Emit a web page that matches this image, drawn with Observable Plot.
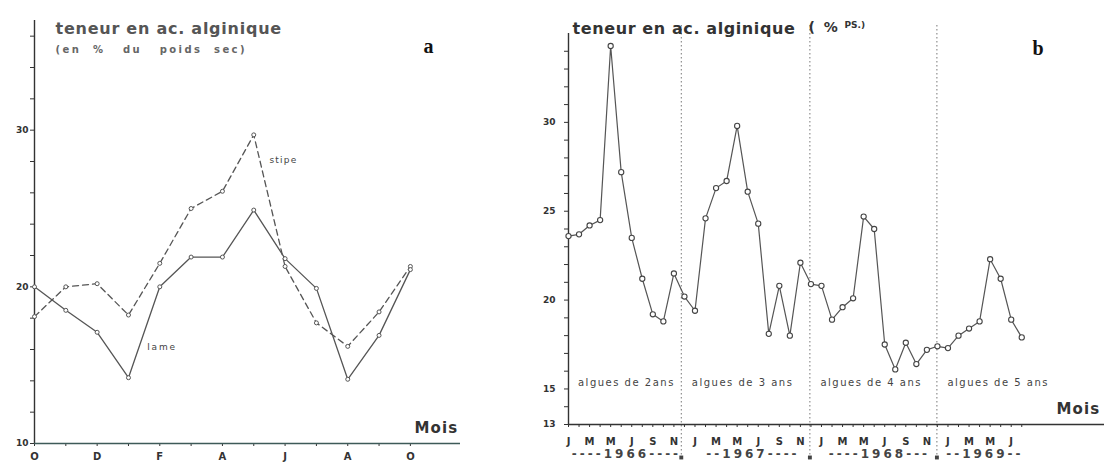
<!DOCTYPE html>
<html><head><meta charset="utf-8">
<script src="https://cdn.jsdelivr.net/npm/d3@7"></script>
<script src="https://cdn.jsdelivr.net/npm/@observablehq/plot@0.6"></script>
<style>
html,body{margin:0;padding:0;background:#fff;}
#wrap{position:relative;width:1104px;height:463px;overflow:hidden;background:#fff;}
#a{position:absolute;left:0;top:0;}
#b{position:absolute;left:520px;top:0;}
</style></head><body><div id="wrap"><div id="a"></div><div id="b"></div></div>
<script>
// ---------- Panel a : Oct -> Oct ----------
const monthsA = ["O","N","D","J","F","M","A","M","J","J","A","S","O"];
const lame  = [20.0, 18.5, 17.1, 14.2, 20.0, 21.9, 21.9, 24.9, 21.8, 19.9, 14.1, 16.9, 21.1];
const stipe = [18.1, 20.0, 20.2, 18.2, 21.5, 25.0, 26.1, 29.7, 21.3, 17.7, 16.2, 18.4, 21.3];
const yTicksA = [10,12,14,16,18,20,22,24,26,28,30,32,34,36];
const yLabelsA = [10, 20, 30];

// ---------- Panel b : Jan 1966 -> Aug 1969 ----------
const monthsB = ["J","F","M","A","M","J","J","A","S","O","N","D"];
const years = ["1966","1967","1968","1969"];
const yearText = ["----1966----","--1967----","----1968---","--1969--"];
const v1966 = [23.6, 23.7, 24.2, 24.5, 34.3, 27.2, 23.5, 21.2, 19.2, 18.8, 21.5, 20.2];
const v1967 = [19.4, 24.6, 26.3, 26.7, 29.8, 26.1, 24.3, 18.1, 20.8, 18.0, 22.1, 20.9];
const v1968 = [20.8, 18.9, 19.6, 20.1, 24.7, 24.0, 17.5, 16.1, 17.6, 16.4, 17.2, 17.4];
const v1969 = [17.3, 18.0, 18.4, 18.8, 22.3, 21.2, 18.9, 17.9];
const yTicksB = [13,14,15,16,17,18,19,20,21,22,23,24,25,26,27,28,29,30,31,32,33,34];
const yLabelsB = [30, 25, 20, 15, 13];
const groups = ["algues de 2ans","algues de 3 ans","algues de 4 ans","algues de 5 ans"];
const separators = [10.7, 22.9, 34.95];

const ink = "#333";
const lineInk = "#555";
const font = "DejaVu Sans";

function spaceText(svg, map) {
  svg.querySelectorAll("text").forEach(t => {
    const s = map.get(t.textContent);
    if (s !== undefined) t.setAttribute("letter-spacing", s);
  });
}

// ----- build panel a -----
const dataA = monthsA.map((m, i) => ({i, m, lame: lame[i], stipe: stipe[i]}));
const iMaxStipe = d3.maxIndex(stipe);
const iMinLame = d3.minIndex(lame.slice(0, 6));

const chartA = Plot.plot({
  width: 470, height: 463,
  marginLeft: 34, marginRight: 10, marginTop: 20, marginBottom: 20,
  x: {domain: [0, 13.6], label: null},
  y: {domain: [10, 37], label: null},
  style: {fontFamily: font, color: ink, background: "white", overflow: "visible"},
  marks: [
    Plot.axisY({ticks: yTicksA, tickSize: 4, tickPadding: 2, label: null,
      tickFormat: d => yLabelsA.includes(d) ? String(d) : "",
      fontSize: 9, fontWeight: "bold"}),
    Plot.axisX({ticks: d3.range(monthsA.length), tickSize: 3, tickPadding: 6, label: null,
      tickFormat: i => i % 2 === 0 ? monthsA[i] : "",
      fontSize: 10, fontWeight: "bold"}),
    Plot.ruleX([0], {y1: 10, y2: 37, stroke: ink, strokeWidth: 1.4}),
    Plot.ruleY([10], {x1: 0, x2: 13.6, stroke: "#3d5a58", strokeWidth: 1.6}),
    Plot.line(dataA, {x: "i", y: "stipe", stroke: lineInk, strokeWidth: 1.3, strokeDasharray: "6,4"}),
    Plot.line(dataA, {x: "i", y: "lame", stroke: lineInk, strokeWidth: 1.3}),
    Plot.dot(dataA, {x: "i", y: "stipe", r: 2, fill: "white", stroke: lineInk, strokeWidth: 1}),
    Plot.dot(dataA, {x: "i", y: "lame", r: 2, fill: "white", stroke: lineInk, strokeWidth: 1}),
    Plot.text(["stipe"], {x: iMaxStipe + 0.5, y: stipe[iMaxStipe] - 1.6, textAnchor: "start",
      fontSize: 9, fill: "#444"}),
    Plot.text(["lame"], {x: iMinLame + 0.6, y: lame[iMinLame] + 1.95, textAnchor: "start",
      fontSize: 9, fill: "#444"}),
    Plot.text(["Mois"], {frameAnchor: "bottom-right", dx: -2, dy: -11, textAnchor: "end",
      fontSize: 15, fontWeight: "bold", fill: ink}),
    Plot.text(["teneur en ac. alginique"], {frameAnchor: "top-left", dx: 21, dy: 2, textAnchor: "start",
      fontSize: 16, fontWeight: "bold", fill: "#555"}),
    Plot.text(["(en  %   du   poids  sec)"], {frameAnchor: "top-left", dx: 21, dy: 25, textAnchor: "start",
      fontSize: 10, fontWeight: "bold", fill: "#666"}),
    Plot.text(["a"], {frameAnchor: "top-right", dx: -27, dy: 18, fontFamily: "Liberation Serif",
      fontSize: 20, fontWeight: "bold", fill: "#111"})
  ]
});
spaceText(chartA, new Map([
  ["teneur en ac. alginique", 0.75], ["(en  %   du   poids  sec)", 2.4],
  ["stipe", 1.2], ["lame", 1.8], ["Mois", 1.2]
]));
document.getElementById("a").appendChild(chartA);

// ----- build panel b -----
const series = [v1966, v1967, v1968, v1969];
const dataB = series.flatMap((arr, k) => arr.map((v, m) => ({i: 12 * k + m, v})));
const nB = dataB.length;
const yearCenters = series.map((arr, k) => 12 * k + (arr.length - 1) / 2);
const groupStarts = [0.9, ...separators.map(s => s + 1)];

const chartB = Plot.plot({
  width: 584, height: 463,
  marginLeft: 48, marginRight: 0, marginTop: 33, marginBottom: 39,
  x: {domain: [0, 50.85], label: null},
  y: {domain: [13, 35], label: null},
  style: {fontFamily: font, color: ink, background: "white", overflow: "visible"},
  marks: [
    Plot.axisY({ticks: yTicksB, tickSize: 4, tickPadding: 9, label: null,
      tickFormat: d => yLabelsB.includes(d) ? String(d) : "",
      fontSize: 9, fontWeight: "bold"}),
    Plot.axisX({ticks: d3.range(nB), tickSize: 3, tickPadding: 10, label: null,
      tickFormat: i => i % 2 === 0 ? monthsB[i % 12] : "",
      fontSize: 10, fontWeight: "bold"}),
    Plot.ruleX(separators, {stroke: "#777", strokeWidth: 1, strokeDasharray: "1.5,2.5",
      insetTop: -8, insetBottom: -36}),
    Plot.ruleX([0], {y1: 13, y2: 35, stroke: ink, strokeWidth: 1.4}),
    Plot.ruleY([13], {x1: 0, x2: 50.85, stroke: ink, strokeWidth: 1.6}),
    Plot.line(dataB, {x: "i", y: "v", stroke: lineInk, strokeWidth: 1.2}),
    Plot.dot(dataB, {x: "i", y: "v", r: 2.6, fill: "white", stroke: "#444", strokeWidth: 1.1}),
    Plot.text(groups, {x: (d, k) => groupStarts[k], frameAnchor: "bottom", dy: -39,
      textAnchor: "start", fontSize: 10, fill: "#444"}),
    Plot.text(yearText, {x: (d, k) => yearCenters[k], frameAnchor: "bottom", dy: 33,
      fontSize: 12, fontWeight: "bold", fill: "#444"}),
    Plot.dot(separators, {x: d => d, frameAnchor: "bottom", dy: 33, symbol: "square", r: 2.2, fill: "#444"}),
    Plot.text(["Mois"], {frameAnchor: "bottom-right", dx: -4, dy: -11, textAnchor: "end",
      fontSize: 15, fontWeight: "bold", fill: ink}),
    Plot.text(["teneur en ac. alginique"], {frameAnchor: "top-left", dx: 4, dy: -11, textAnchor: "start",
      fontSize: 16, fontWeight: "bold", fill: "#333"}),
    Plot.text(["( %"], {frameAnchor: "top-left", dx: 240, dy: -11, textAnchor: "start",
      fontSize: 14, fontWeight: "bold", fill: "#333"}),
    Plot.text(["PS.)"], {frameAnchor: "top-left", dx: 276, dy: -12, textAnchor: "start",
      fontSize: 9, fontWeight: "bold", fill: "#333"}),
    Plot.text(["b"], {frameAnchor: "top-right", dx: -61, dy: 7, fontFamily: "Liberation Serif",
      fontSize: 20, fontWeight: "bold", fill: "#111"})
  ]
});
spaceText(chartB, new Map([
  ["teneur en ac. alginique", 0.6], ["( %", 2], ["Mois", 1.2],
  ...groups.map(g => [g, 1.5]), ...yearText.map(y => [y, 3])
]));
document.getElementById("b").appendChild(chartB);
</script>
</body></html>
